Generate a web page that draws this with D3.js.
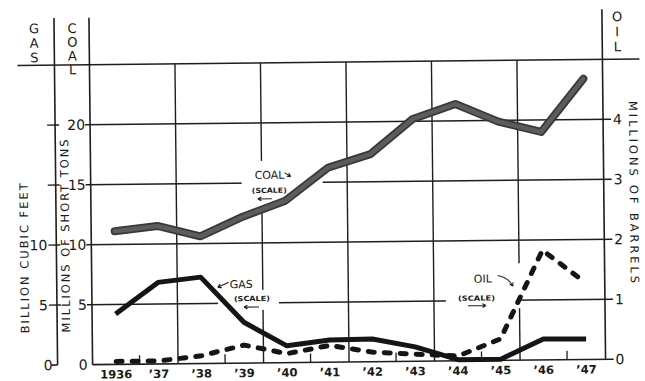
<!DOCTYPE html>
<html><head><meta charset="utf-8">
<script src="https://cdn.jsdelivr.net/npm/d3@7/dist/d3.min.js"></script>
<style>body{margin:0;background:#fff}svg{display:block}text{font-family:"DejaVu Sans",sans-serif;fill:#1a1a1a}</style>
</head><body>
<script>
const years = [1936,1937,1938,1939,1940,1941,1942,1943,1944,1945,1946,1947];
const yearLabels = ["1936","\u201937","\u201938","\u201939","\u201940","\u201941","\u201942","\u201943","\u201944","\u201945","\u201946","\u201947"];
const coal = [11.1,11.5,10.6,12.2,13.5,16.2,17.3,20.2,21.4,19.9,19.0,23.4];
const gas  = [4.2,6.8,7.2,3.4,1.4,1.85,1.9,1.2,0.1,0.1,1.75,1.7];
const oil  = [0.05,0.05,0.13,0.3,0.15,0.28,0.16,0.12,0.08,0.36,1.83,1.28];
const coalTicks = [0,5,10,15,20];
const gasTicks = [0,5,10];
const gasMinor = [15,20];
const oilTicks = [0,1,2,3,4];
const gridYears = [1937.45,1939.45,1941.45,1943.45,1945.45];
const minorYears = [1936.55,1938.55,1940.55,1942.55,1944.55,1946.55];

const W=645,H=381;
const svg=d3.select("body").append("svg").attr("width",W).attr("height",H);
svg.append("rect").attr("width",W).attr("height",H).attr("fill","#fff");
const g=svg.append("g").attr("transform","rotate(-0.6,347,212)");

const x=d3.scaleLinear().domain([1935.45,1947.45]).range([91,604]);
const yC=d3.scaleLinear().domain([0,25]).range([362,62]);
const yO=d3.scaleLinear().domain([0,5]).range([362,62]);
const ink="#1e1e1e";

const ln=(x1,y1,x2,y2,w=1.6)=>g.append("line").attr("x1",x1).attr("y1",y1).attr("x2",x2).attr("y2",y2).attr("stroke",ink).attr("stroke-width",w);
ln(19,yC(25),641,yC(25));
ln(56,15,56,yC(0));
ln(x(1935.45),15,x(1935.45),yC(0));
ln(x(1947.45),12,x(1947.45),yC(0));
ln(x(1935.45),yC(0),612,yC(0));
ln(50,yC(0),56,yC(0));

coalTicks.filter(d=>d>0).forEach(d=>ln(86,yC(d),612,yC(d),1.4));
gasTicks.filter(d=>d>0).concat(gasMinor).forEach(d=>ln(48,yC(d),60,yC(d),1.4));
gridYears.forEach(d=>ln(x(d),yC(25),x(d),yC(0),1.4));
minorYears.forEach(d=>ln(x(d),yC(0)-9,x(d),yC(0),1.3));

const box=(x0,y0,x1,y1)=>g.append("rect").attr("x",x0).attr("y",y0).attr("width",x1-x0).attr("height",y1-y0).attr("fill","#fff");
box(242,160,323,206);
box(217,289,278,309);
box(445,265,520,310);

const tl=(t,xx,yy,anchor,size=14)=>g.append("text").attr("x",xx).attr("y",yy).attr("text-anchor",anchor).attr("font-size",size).text(t);
coalTicks.forEach(d=>tl(d,86,yC(d)+5,"end"));
gasTicks.forEach(d=>tl(d,d===0?51:47,yC(d)+5,"end"));
oilTicks.forEach(d=>tl(d,614,yO(d)+5,"start"));
years.forEach((d,i)=>g.append("text").attr("x",x(d)).attr("y",376).attr("text-anchor","middle")
  .attr("font-size",11.5).attr("font-weight","bold").text(yearLabels[i]));

// stacked titles (upright vertical text)
const stack=(t,xx,y0,size,ls)=>g.append("text").attr("x",xx).attr("y",y0)
  .style("writing-mode","vertical-rl").style("text-orientation","upright")
  .attr("font-size",size).attr("letter-spacing",ls).text(t);
stack("GAS",36,18,13,-0.5);
stack("COAL",74,18,13,-1.2);
stack("OIL",619,12,13,0);

const vt=(t,xx,yc,len,rot)=>g.append("text").attr("transform",`translate(${xx},${yc}) rotate(${rot})`)
  .attr("text-anchor","middle").attr("font-size",11.5).attr("textLength",len).attr("lengthAdjust","spacing").text(t);
vt("BILLION  CUBIC  FEET",28,255,150,-90);
vt("MILLIONS OF SHORT TONS",69,233,193,-90);
vt("MILLIONS  OF  BARRELS",630,195,182,90);

const at=(t,xx,yy,size,weight="normal",len=null)=>{const e=g.append("text").attr("x",xx).attr("y",yy).attr("font-size",size)
  .attr("font-weight",weight).text(t); if(len) e.attr("textLength",len).attr("lengthAdjust","spacingAndGlyphs"); return e;};
at("COAL",255,178,11);
at("(SCALE)",252,192,7,"bold",35);
at("GAS",229,287,11);
at("(SCALE)",233,300,7,"bold",36);
at("OIL",473,284,11);
at("(SCALE)",457,302,7,"bold",37);

// arrows as paths
const arrow=(pts,curve=false)=>{
  const p=d3.path(); p.moveTo(pts[0][0],pts[0][1]);
  if(curve) p.quadraticCurveTo(pts[1][0],pts[1][1],pts[2][0],pts[2][1]); else p.lineTo(pts[1][0],pts[1][1]);
  const a=pts[pts.length-1], b=curve?pts[1]:pts[0];
  const ang=Math.atan2(a[1]-b[1],a[0]-b[0]);
  [0.5,-0.5].forEach(s=>{p.moveTo(a[0],a[1]); p.lineTo(a[0]-4*Math.cos(ang+s),a[1]-4*Math.sin(ang+s));});
  g.append("path").attr("d",p.toString()).attr("fill","none").attr("stroke",ink).attr("stroke-width",1.1);
};
arrow([[285,172],[291,176]]);
arrow([[272,198],[258,198]]);
arrow([[228,281],[217,286]]);
arrow([[258,306],[243,306]]);
arrow([[497,277],[508,279],[512,288]],true);
arrow([[467,307],[485,307]]);

const line=d3.line().curve(d3.curveLinear);
const coalPts=years.map((d,i)=>[x(d),yC(coal[i])]);
const gasPts=years.map((d,i)=>[x(d),yC(gas[i])]);
const oilPts=years.map((d,i)=>[x(d),yO(oil[i])]);
g.append("path").attr("d",line(oilPts)).attr("fill","none").attr("stroke","#151515").attr("stroke-width",5)
  .attr("stroke-dasharray","6,10").attr("stroke-linecap","round").attr("stroke-linejoin","round");
g.append("path").attr("d",line(gasPts)).attr("fill","none").attr("stroke","#151515").attr("stroke-width",5)
  .attr("stroke-linejoin","round");
g.append("path").attr("d",line(coalPts)).attr("fill","none").attr("stroke","#383838").attr("stroke-width",8)
  .attr("stroke-linejoin","round").attr("stroke-linecap","round");
g.append("path").attr("d",line(coalPts)).attr("fill","none").attr("stroke","#5c5c5c").attr("stroke-width",4.5)
  .attr("stroke-linejoin","round").attr("stroke-linecap","round");
</script>
</body></html>
